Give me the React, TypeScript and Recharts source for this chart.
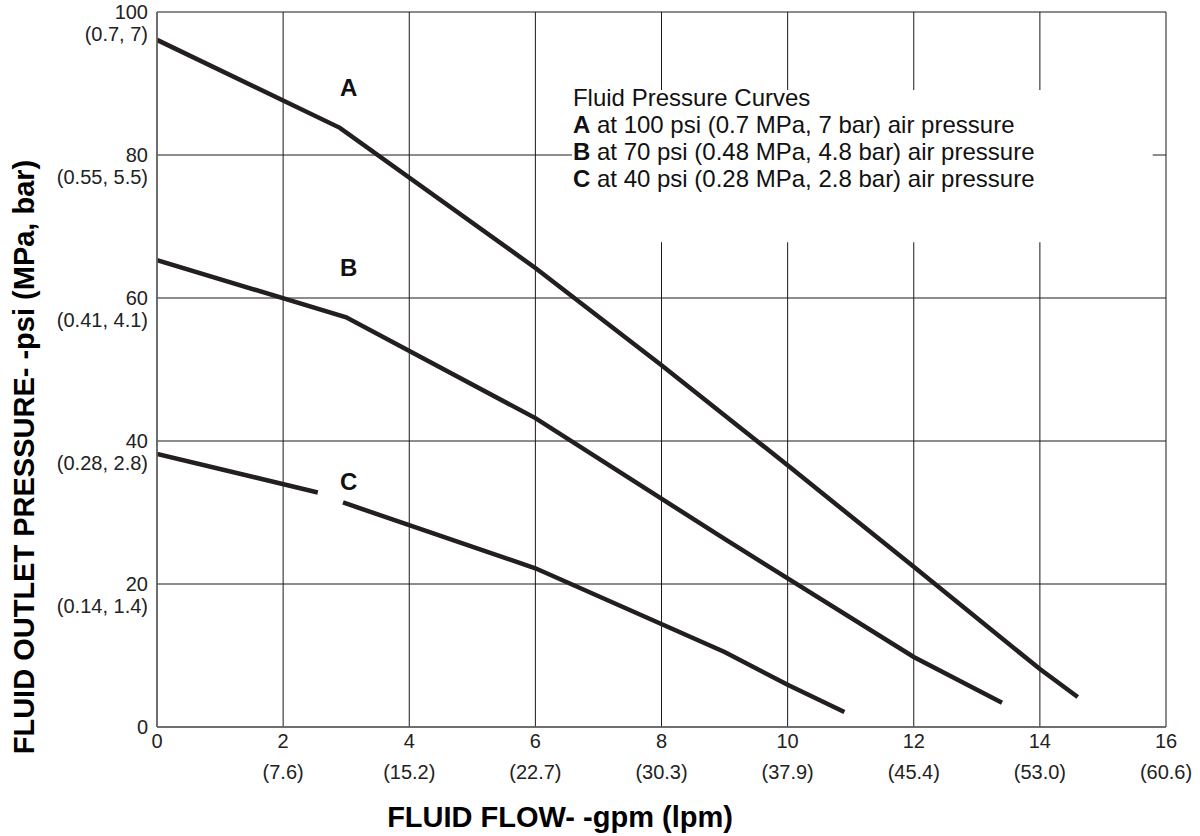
import React from 'react';
import {
  LineChart, Line, XAxis, YAxis, CartesianGrid, ReferenceArea, ReferenceDot, Label,
} from 'recharts';

// axis ticks (gpm / psi) with the metric equivalents printed underneath
const flowTicks = [0, 2, 4, 6, 8, 10, 12, 14, 16];
const lpmLabels = ['', '(7.6)', '(15.2)', '(22.7)', '(30.3)', '(37.9)', '(45.4)', '(53.0)', '(60.6)'];
const psiTicks = [0, 20, 40, 60, 80, 100];
const metricLabels = ['', '(0.14, 1.4)', '(0.28, 2.8)', '(0.41, 4.1)', '(0.55, 5.5)', '(0.7, 7)'];

// curves (x = gpm, y = psi)
const curveA = [
  { x: 0, y: 96.1 }, { x: 2.9, y: 83.8 }, { x: 6, y: 64.2 }, { x: 8, y: 50.6 },
  { x: 10, y: 36.6 }, { x: 12, y: 22.4 }, { x: 14, y: 8.1 }, { x: 14.6, y: 4.2 },
];
const curveB = [
  { x: 0, y: 65.3 }, { x: 3, y: 57.3 }, { x: 6, y: 43.2 }, { x: 9, y: 26.3 },
  { x: 12, y: 9.8 }, { x: 13.4, y: 3.4 },
];
// curve C is broken where the "C" label sits
const curveCStart = [{ x: 0, y: 38.2 }, { x: 2.55, y: 32.8 }];
const curveCEnd = [
  { x: 2.95, y: 31.4 }, { x: 6, y: 22.2 }, { x: 9, y: 10.5 }, { x: 10, y: 5.9 }, { x: 10.9, y: 2.1 },
];

const curveNames = ['A', 'B', 'C'];
const curveLabelX = [3.04, 3.04, 3.04];
const curveLabelY = [89.5, 64.3, 34.3];

const legendTitle = 'Fluid Pressure Curves';
const legendTexts = [
  ' at 100 psi (0.7 MPa, 7 bar) air pressure',
  ' at 70 psi (0.48 MPa, 4.8 bar) air pressure',
  ' at 40 psi (0.28 MPa, 2.8 bar) air pressure',
];

const FONT = '"Liberation Sans", Arial, Helvetica, sans-serif';
const INK = '#231f20';

const FlowTick = ({ x, y, payload }: any) => {
  const i = flowTicks.indexOf(payload.value);
  return (
    <g fontFamily={FONT} fontSize={20} fill="#222">
      <text x={x} y={y + 21} textAnchor="middle">{payload.value}</text>
      <text x={x} y={y + 52} textAnchor="middle">{lpmLabels[i]}</text>
    </g>
  );
};

const PsiTick = ({ x, y, payload }: any) => {
  const i = psiTicks.indexOf(payload.value);
  return (
    <g fontFamily={FONT} fontSize={20} fill="#222">
      <text x={x - 9} y={y + 6.5} textAnchor="end">{payload.value}</text>
      <text x={x - 9} y={y + 28.5} textAnchor="end">{metricLabels[i]}</text>
    </g>
  );
};

const LegendBlock = ({ viewBox }: any) => {
  const { x, y } = viewBox;
  return (
    <g fontFamily={FONT} fontSize={24} fill="#111">
      <text x={x + 1} y={y + 16.5}>{legendTitle}</text>
      {legendTexts.map((t, i) => (
        <text key={i} x={x + 1} y={y + 43.4 + i * 26.9}>
          <tspan fontWeight="bold">{curveNames[i]}</tspan>
          {t}
        </text>
      ))}
    </g>
  );
};

export default function App() {
  return (
    <div style={{ position: 'absolute', left: 0, top: 0, width: 1200, height: 836, background: '#fff' }}>
      <LineChart width={1200} height={836} margin={{ top: 12, right: 34, bottom: 9, left: 7 }}>
        <CartesianGrid stroke="#1a1a1a" strokeWidth={1} />
        <XAxis
          type="number"
          dataKey="x"
          domain={[0, 16]}
          ticks={flowTicks}
          allowDataOverflow
          height={100}
          tickSize={0}
          tickMargin={0}
          tickLine={false}
          stroke="#666"
          strokeWidth={1.5}
          tick={<FlowTick />}
        >
          <Label
            content={() => (
              <text x={560} y={827} textAnchor="middle" fontFamily={FONT} fontSize={29} fontWeight="bold" fill="#000">
                FLUID FLOW- -gpm (lpm)
              </text>
            )}
          />
        </XAxis>
        <YAxis
          type="number"
          dataKey="y"
          domain={[0, 100]}
          ticks={psiTicks}
          allowDataOverflow
          width={150}
          tickSize={0}
          tickMargin={0}
          tickLine={false}
          stroke="#666"
          strokeWidth={1.5}
          tick={<PsiTick />}
        >
          <Label
            content={() => (
              <text
                x={34}
                y={457}
                textAnchor="middle"
                transform="rotate(-90, 34, 457)"
                fontFamily={FONT}
                fontSize={29}
                fontWeight="bold"
                fill="#000"
              >
                FLUID OUTLET PRESSURE- -psi (MPa, bar)
              </text>
            )}
          />
        </YAxis>

        {/* white box behind the legend text breaks the grid */}
        <ReferenceArea
          x1={6.58}
          x2={15.79}
          y1={67.8}
          y2={89.1}
          fill="#fff"
          fillOpacity={1}
          stroke="none"
          label={<LegendBlock />}
        />

        <Line data={curveA} dataKey="y" type="linear" stroke={INK} strokeWidth={4.5} dot={false} isAnimationActive={false} />
        <Line data={curveB} dataKey="y" type="linear" stroke={INK} strokeWidth={4.5} dot={false} isAnimationActive={false} />
        <Line data={curveCStart} dataKey="y" type="linear" stroke={INK} strokeWidth={4.5} dot={false} isAnimationActive={false} />
        <Line data={curveCEnd} dataKey="y" type="linear" stroke={INK} strokeWidth={4.5} dot={false} isAnimationActive={false} />

        {curveNames.map((n, i) => (
          <ReferenceDot
            key={n}
            x={curveLabelX[i]}
            y={curveLabelY[i]}
            r={0}
            fill="none"
            stroke="none"
            label={{ value: n, position: 'center', fontSize: 24, fontWeight: 'bold', fill: '#111', fontFamily: FONT }}
          />
        ))}
      </LineChart>
    </div>
  );
}
